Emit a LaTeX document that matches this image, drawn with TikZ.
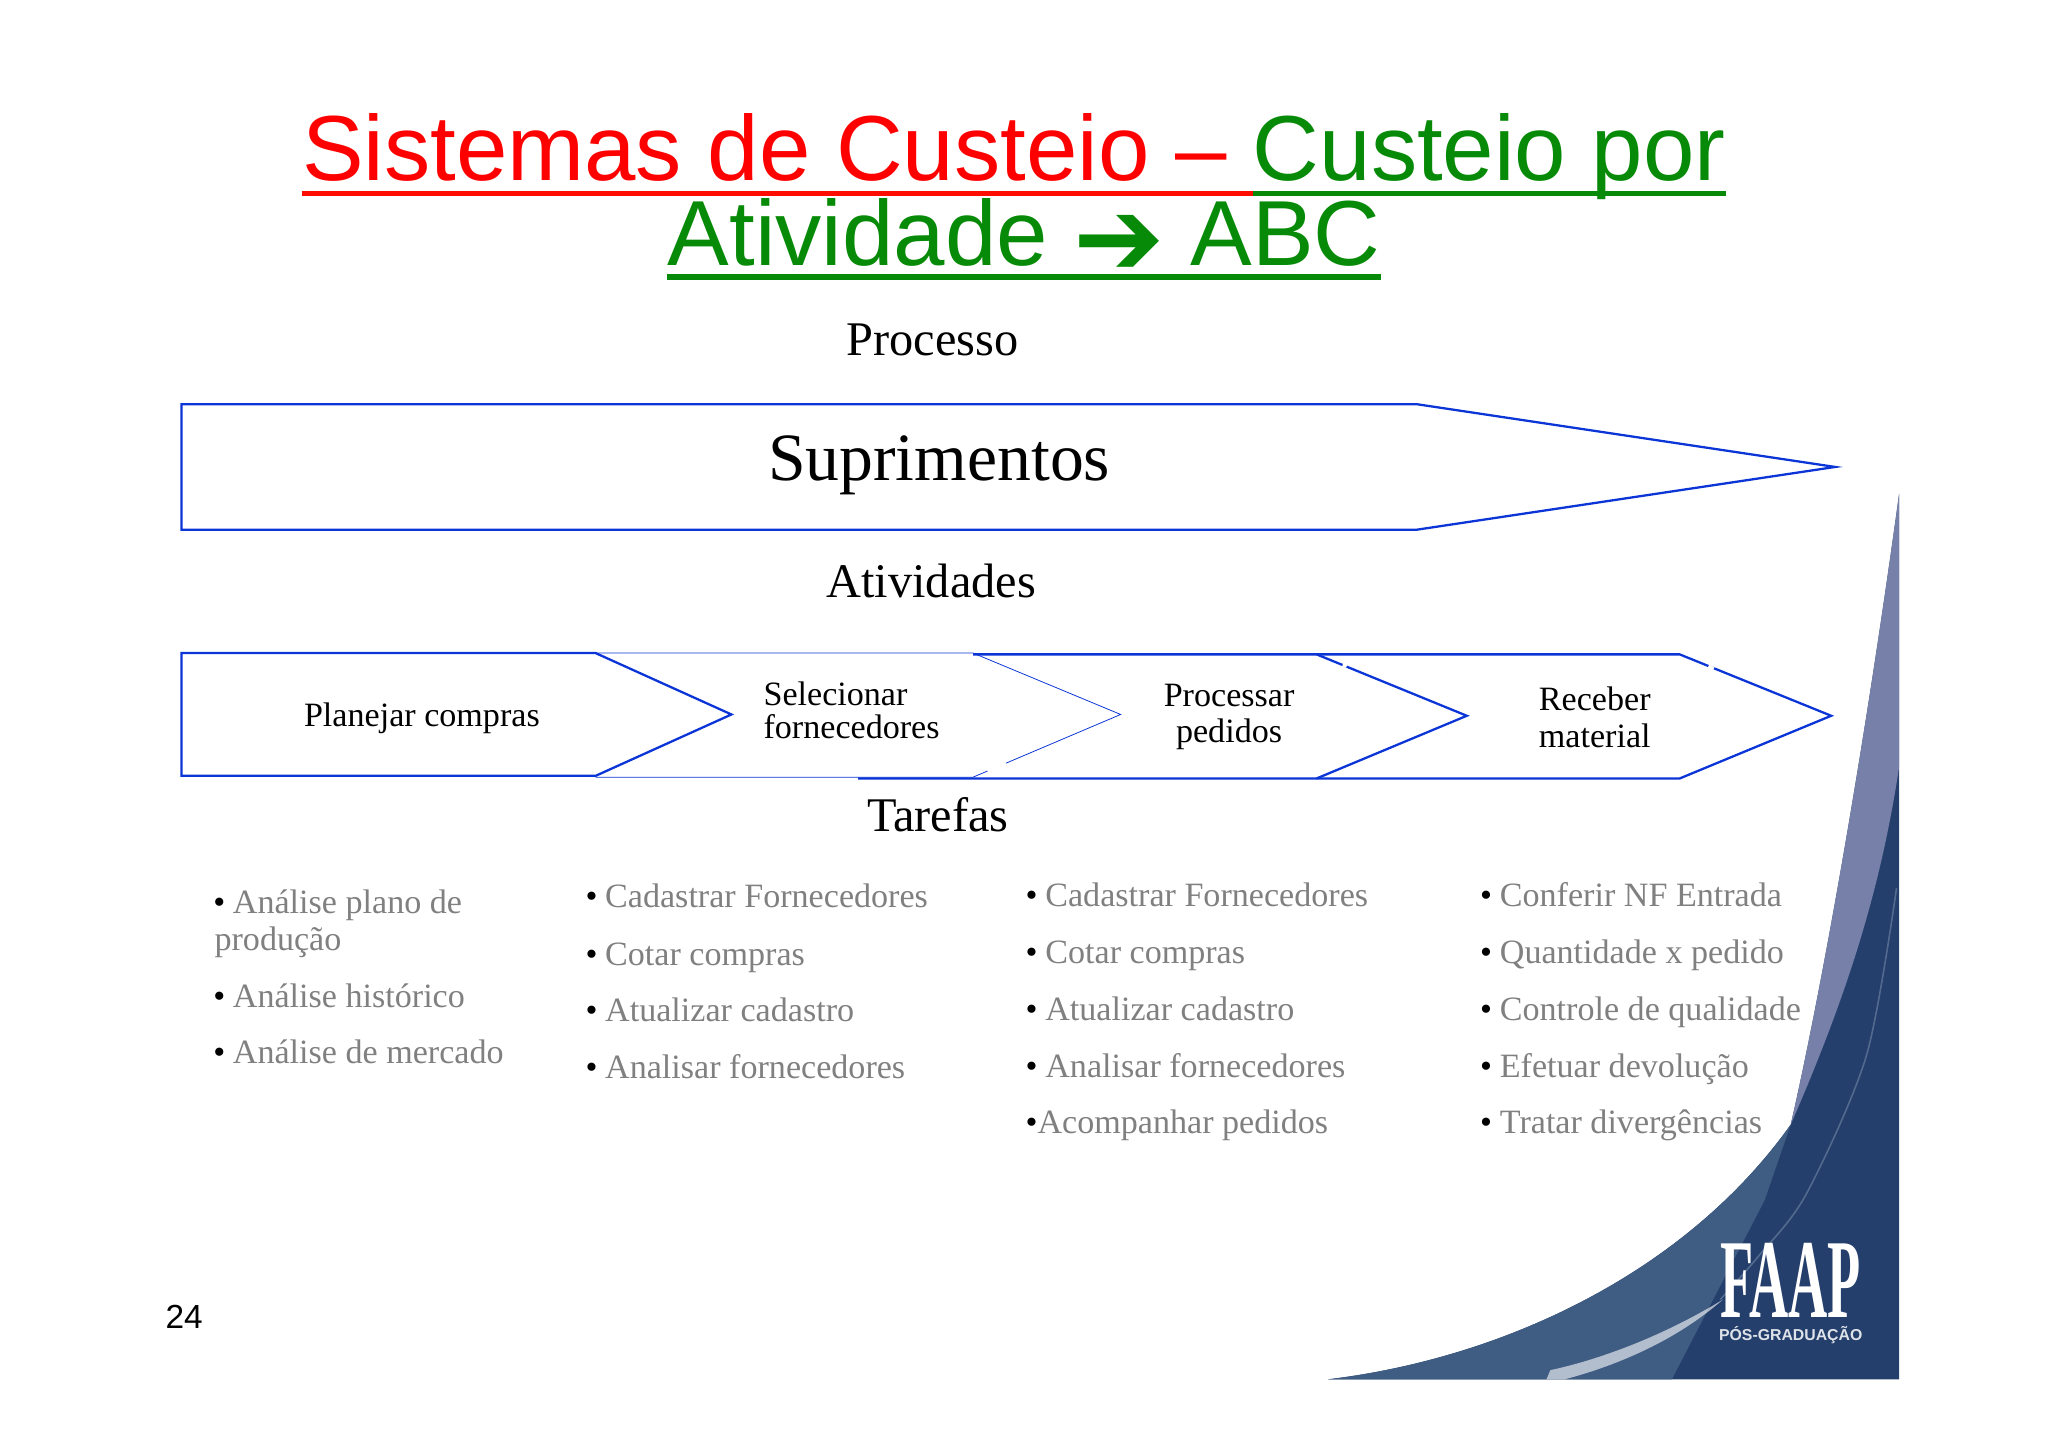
\documentclass[tikz,border=0pt]{standalone}
\usepackage{fontspec}
\setmainfont{Liberation Serif}
\newfontfamily\arialfont{Liberation Sans}
\newfontfamily\setafont{DejaVu Sans}
\definecolor{tituloverde}{HTML}{078A07}
\definecolor{tarefacinza}{HTML}{808080}
\definecolor{setaazul}{HTML}{0B35D6}
\definecolor{fundoescuro}{HTML}{243F6C}
\definecolor{fundomedio}{HTML}{3F5C83}
\definecolor{fundoclaro}{HTML}{7680A8}
\newcommand{\marca}{\makebox[11.2pt][l]{\color{black}\textbullet}}
\tikzset{
	titulo/.style={font=\arialfont\fontsize{52.6}{53}\selectfont,inner sep=0pt,anchor=base west},
	sublinha/.style={line width=3pt},
	secao/.style={font=\fontsize{27.5}{27.5}\selectfont,inner sep=0pt},
	seta/.style={draw=setaazul,line width=1.3pt,line join=miter},
	setafina/.style={draw=setaazul,line width=.45pt},
	rotulo/.style={font=\fontsize{19.4}{18.6}\selectfont,inner sep=0pt,align=center},
	rotulolargo/.style={font=\fontsize{19.4}{20.8}\selectfont,inner sep=0pt,align=center},
	tarefa/.style={font=\fontsize{19.4}{19.4}\selectfont,text=tarefacinza,inner sep=0pt,anchor=base west}
}
\begin{document}
\begin{tikzpicture}[x=0.02612cm,y=-0.02612cm]
	\useasboundingbox (0,0) rectangle (1568,1108);

	% swoosh
	\fill[fundoescuro] (1017,1056) .. controls (1150,1040) and (1290,975) .. (1371,861)
		.. controls (1392,770) and (1425,590) .. (1454,378) -- (1454,1056) -- cycle;
	\fill[fundoclaro] (1371,861) .. controls (1392,770) and (1425,590) .. (1454,378) -- (1454,587)
		.. controls (1440,680) and (1415,760) .. (1371,861) -- cycle;
	\fill[fundomedio] (1017,1056) .. controls (1150,1040) and (1290,975) .. (1371,861)
		-- (1351,919) -- (1280,1056) -- cycle;
	\draw[fundomedio!80!white,line width=.9pt,opacity=.7] plot[smooth] coordinates {(1452,680) (1429,808) (1383,914) (1347,961) (1317,995)};
	\fill[white,opacity=.6] (1184,1056) -- (1187,1049) .. controls (1220,1042) and (1270,1025) .. (1319,995)
		.. controls (1285,1025) and (1240,1045) .. (1198,1056) -- cycle;

	\node[titulo,text=red] (titulo1) at (231,138) {Sistemas de Custeio –};
	\node[titulo,text=tituloverde] (titulo2) at (959,138) {Custeio por};
	\node[titulo,text=tituloverde] (titulo3) at (511,203) {Atividade {\setafont\fontsize{62}{62}\selectfont\raisebox{-6pt}{➔}} ABC};
	\draw[sublinha,red!90!orange] (titulo1.base west |- 0,148) -- (959,148);
	\draw[sublinha,tituloverde] (959,148) -- (titulo2.base east |- 0,148);
	\draw[sublinha,tituloverde] (titulo3.base west |- 0,212) -- (titulo3.base east |- 0,212);

	\node[secao] (processo) at (714,260) {Processo};
	\node[secao] (atividades) at (713,445) {Atividades};
	\node[secao] (tarefas) at (718,624) {Tarefas};

	\draw[seta] (139,309.5) -- (1085,309.5) -- (1405,357.5) -- (1085,405.5) -- (139,405.5) -- cycle;
	\node[font=\fontsize{38.5}{38.5}\selectfont,inner sep=0pt] (suprimentos) at (719,356) {Suprimentos};

	\draw[seta] (139,500) -- (456,500) -- (560,547) -- (456,594) -- (139,594) -- cycle;
	\draw[setafina] (456,500) -- (745,500) -- (858,547) -- (745,595) -- (456,595);
	\draw[seta] (745,501) -- (1008,501) -- (1123,548) -- (1008,596) -- (657,596);
	\draw[seta] (1008,501) -- (1286,501) -- (1402,548) -- (1286,596) -- (1008,596);
	\draw[white,line width=2pt] (1028,509) -- (1031,510);
	\draw[white,line width=2pt] (1308,510) -- (1312,512);
	\draw[white,line width=2pt] (756,590) -- (770,584);

	\node[rotulo] (planejar) at (323,550) {Planejar compras};
	\node[rotulo,align=left] (selecionar) at (652,544) {Selecionar\\fornecedores};
	\node[rotulolargo] (processar) at (941,549) {Processar\\pedidos};
	\node[rotulolargo] (receber) at (1221,549) {Receber\\material};

	\node[tarefa] (a1) at (163,699) {\marca Análise plano de};
	\node[tarefa] (a2) at (164,728) {produção};
	\node[tarefa] (a3) at (163,771) {\marca Análise histórico};
	\node[tarefa] (a4) at (163,814) {\marca Análise de mercado};

	\foreach \i/\y/\txt in {1/695/Cadastrar Fornecedores,2/739/Cotar compras,3/782/Atualizar cadastro,4/826/Analisar fornecedores}
		\node[tarefa] (b\i) at (448,\y) {\marca \txt};

	\foreach \i/\y/\txt in {1/694/Cadastrar Fornecedores,2/738/Cotar compras,3/781/Atualizar cadastro,4/825/Analisar fornecedores}
		\node[tarefa] (c\i) at (785,\y) {\marca \txt};
	\node[tarefa] (c5) at (785,868) {{\color{black}\textbullet}Acompanhar pedidos};

	\foreach \i/\y/\txt in {1/694/Conferir NF Entrada,2/738/Quantidade x pedido,3/781/Controle de qualidade,4/825/Efetuar devolução,5/868/Tratar divergências}
		\node[tarefa] (d\i) at (1133,\y) {\marca \txt};

	\node[font=\arialfont\fontsize{19}{19}\selectfont,inner sep=0pt] (pagina) at (141,1008) {24};

	\node[font=\bfseries\fontsize{64}{64}\selectfont,text=white,inner sep=0pt,xscale=.483,transform shape,anchor=base] (faap) at (1371,1009) {FAAP};
	\node[font=\arialfont\bfseries\fontsize{9}{9}\selectfont,text=white!85!fundoescuro,inner sep=0pt,anchor=base] (posgrad) at (1371,1026) {PÓS-GRADUAÇÃO};
\end{tikzpicture}
\end{document}
